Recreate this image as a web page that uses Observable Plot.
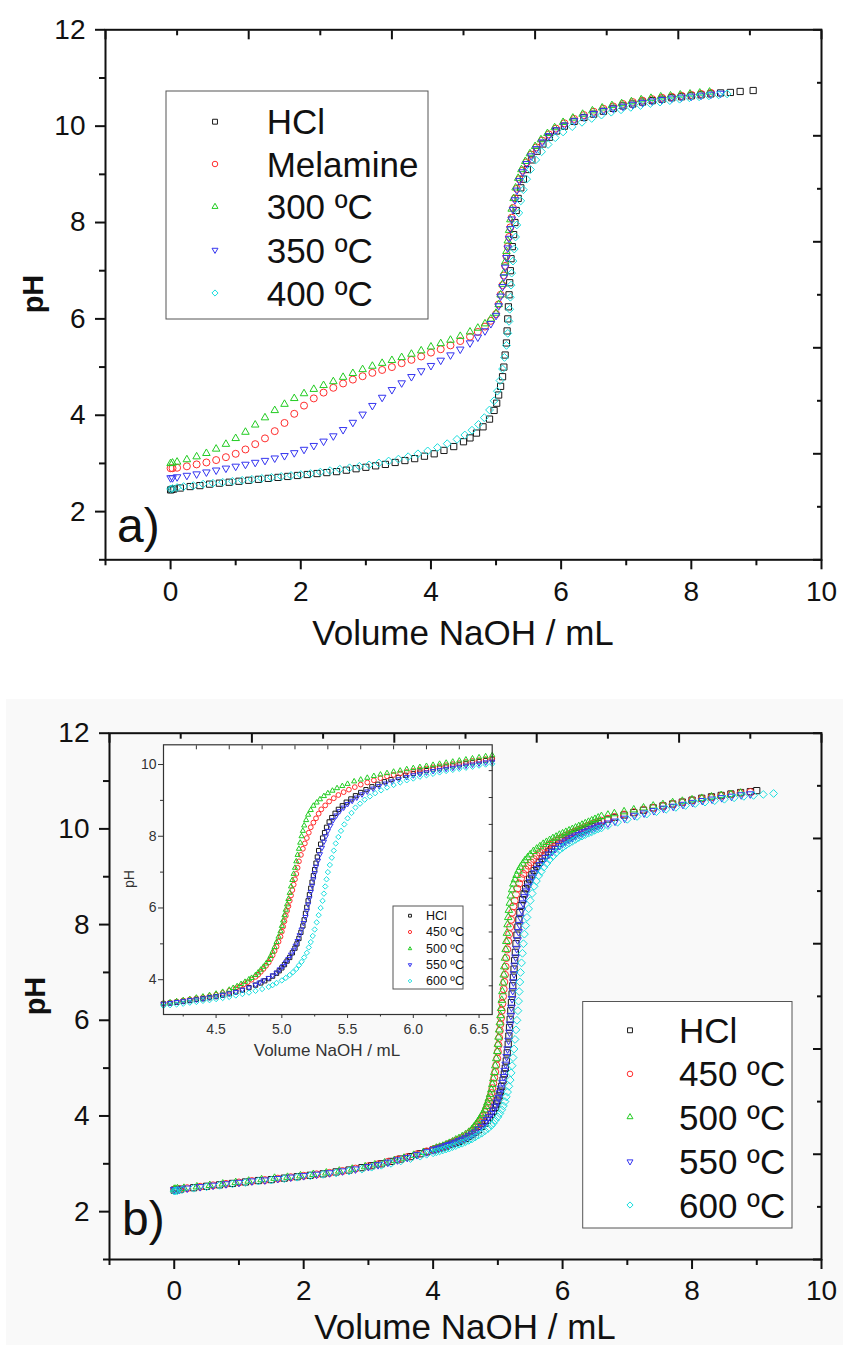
<!DOCTYPE html>
<html><head><meta charset="utf-8">
<script src="https://cdn.jsdelivr.net/npm/d3@7"></script>
<script src="https://cdn.jsdelivr.net/npm/@observablehq/plot@0.6"></script>
<style>
html,body{margin:0;padding:0;background:#fff;}
#root{position:relative;width:843px;height:1345px;overflow:hidden;background:#fff;}
#root svg{position:absolute;}
</style></head><body><div id="root"></div>
<script>
// ---------- Panel a data (Volume NaOH mL, pH) ----------
const seriesA = ["HCl", "Melamine", "300 ºC", "350 ºC", "400 ºC"];
const hclA = [[0,2.45],[0.02,2.46],[0.05,2.47],[0.15,2.49],[0.3,2.52],[0.45,2.54],[0.6,2.57],[0.75,2.59],[0.9,2.61],[1.05,2.63],[1.2,2.65],[1.35,2.67],[1.5,2.69],[1.65,2.71],[1.8,2.73],[1.95,2.75],[2.1,2.77],[2.25,2.79],[2.4,2.81],[2.55,2.83],[2.7,2.86],[2.85,2.89],[3.0,2.92],[3.15,2.95],[3.3,2.98],[3.45,3.02],[3.6,3.06],[3.75,3.1],[3.9,3.15],[4.05,3.2],[4.2,3.27],[4.35,3.35],[4.5,3.45],[4.6,3.53],[4.7,3.63],[4.8,3.76],[4.9,3.92],[4.97,4.1],[5.01,4.25],[5.04,4.42],[5.07,4.6],[5.1,4.8],[5.12,5.0],[5.14,5.25],[5.16,5.5],[5.17,5.75],[5.18,6.0],[5.19,6.25],[5.2,6.5],[5.21,6.75],[5.22,7.0],[5.23,7.25],[5.25,7.5],[5.27,7.75],[5.29,8.0],[5.31,8.25],[5.34,8.5],[5.38,8.72],[5.42,8.9],[5.48,9.1],[5.55,9.3],[5.63,9.48],[5.72,9.63],[5.82,9.77],[5.93,9.9],[6.05,10.0],[6.2,10.1],[6.35,10.18],[6.5,10.25],[6.65,10.31],[6.8,10.37],[6.95,10.42],[7.1,10.46],[7.25,10.5],[7.4,10.53],[7.55,10.56],[7.7,10.59],[7.85,10.61],[8.0,10.63],[8.15,10.65],[8.3,10.67],[8.45,10.69],[8.6,10.7],[8.75,10.72],[8.95,10.74]];
const melamineA = [[0,2.9],[0.03,2.9],[0.1,2.91],[0.25,2.94],[0.4,2.98],[0.55,3.02],[0.7,3.07],[0.85,3.13],[1.0,3.2],[1.15,3.29],[1.3,3.4],[1.45,3.52],[1.6,3.67],[1.75,3.84],[1.9,4.03],[2.05,4.2],[2.2,4.35],[2.35,4.47],[2.5,4.57],[2.65,4.66],[2.8,4.74],[2.95,4.81],[3.1,4.88],[3.25,4.94],[3.4,5.0],[3.55,5.08],[3.7,5.15],[3.85,5.22],[4.0,5.3],[4.15,5.37],[4.3,5.45],[4.45,5.54],[4.6,5.63],[4.72,5.73],[4.83,5.84],[4.92,5.96],[5.0,6.1],[5.04,6.3],[5.07,6.5],[5.1,6.7],[5.12,6.9],[5.14,7.1],[5.16,7.3],[5.18,7.5],[5.2,7.7],[5.22,7.9],[5.24,8.1],[5.26,8.3],[5.29,8.5],[5.32,8.7],[5.36,8.9],[5.41,9.08],[5.47,9.25],[5.54,9.41],[5.62,9.56],[5.71,9.7],[5.81,9.83],[5.92,9.95],[6.05,10.06],[6.2,10.15],[6.35,10.23],[6.5,10.3],[6.65,10.36],[6.8,10.41],[6.95,10.46],[7.1,10.5],[7.25,10.53],[7.4,10.56],[7.55,10.59],[7.7,10.61],[7.85,10.63],[8.0,10.65],[8.15,10.67],[8.3,10.69]];
const c300A = [[0,3.0],[0.03,3.01],[0.1,3.03],[0.25,3.08],[0.4,3.14],[0.55,3.21],[0.7,3.3],[0.85,3.4],[1.0,3.52],[1.15,3.65],[1.3,3.8],[1.45,3.95],[1.6,4.1],[1.75,4.23],[1.9,4.35],[2.05,4.45],[2.2,4.54],[2.35,4.62],[2.5,4.7],[2.65,4.79],[2.8,4.87],[2.95,4.95],[3.1,5.02],[3.25,5.08],[3.4,5.14],[3.55,5.2],[3.7,5.27],[3.85,5.34],[4.0,5.42],[4.15,5.49],[4.3,5.56],[4.45,5.64],[4.6,5.73],[4.72,5.81],[4.83,5.9],[4.92,6.0],[5.0,6.12],[5.04,6.3],[5.07,6.5],[5.1,6.72],[5.12,6.95],[5.14,7.18],[5.16,7.4],[5.18,7.62],[5.2,7.84],[5.22,8.06],[5.24,8.28],[5.27,8.5],[5.3,8.72],[5.34,8.92],[5.39,9.1],[5.45,9.27],[5.52,9.43],[5.6,9.58],[5.69,9.72],[5.79,9.85],[5.9,9.97],[6.03,10.08],[6.18,10.17],[6.33,10.25],[6.48,10.32],[6.63,10.38],[6.78,10.43],[6.93,10.47],[7.08,10.51],[7.23,10.55],[7.38,10.58],[7.53,10.61],[7.68,10.63],[7.83,10.65],[7.98,10.67],[8.13,10.69],[8.28,10.71]];
const c350A = [[0,2.7],[0.03,2.7],[0.1,2.72],[0.25,2.75],[0.4,2.78],[0.55,2.82],[0.7,2.86],[0.85,2.9],[1.0,2.94],[1.15,2.98],[1.3,3.02],[1.45,3.06],[1.6,3.11],[1.75,3.16],[1.9,3.22],[2.05,3.29],[2.2,3.37],[2.35,3.46],[2.5,3.57],[2.65,3.7],[2.8,3.85],[2.95,4.02],[3.1,4.2],[3.25,4.37],[3.4,4.53],[3.55,4.67],[3.7,4.8],[3.85,4.92],[4.0,5.03],[4.15,5.14],[4.3,5.25],[4.45,5.37],[4.6,5.5],[4.72,5.62],[4.83,5.75],[4.92,5.9],[5.0,6.07],[5.04,6.27],[5.07,6.47],[5.1,6.67],[5.12,6.87],[5.14,7.07],[5.16,7.27],[5.18,7.47],[5.2,7.67],[5.22,7.87],[5.24,8.07],[5.26,8.27],[5.29,8.47],[5.32,8.67],[5.36,8.87],[5.41,9.05],[5.47,9.22],[5.54,9.38],[5.62,9.53],[5.71,9.67],[5.81,9.8],[5.92,9.92],[6.05,10.02],[6.2,10.11],[6.35,10.19],[6.5,10.26],[6.65,10.32],[6.8,10.37],[6.95,10.41],[7.1,10.45],[7.25,10.49],[7.4,10.52],[7.55,10.55],[7.7,10.58],[7.85,10.6],[8.0,10.62],[8.15,10.64],[8.3,10.66],[8.45,10.68]];
const c400A = [[0,2.47],[0.03,2.48],[0.1,2.5],[0.2,2.52],[0.35,2.54],[0.5,2.57],[0.65,2.59],[0.8,2.61],[0.95,2.63],[1.1,2.65],[1.25,2.67],[1.4,2.69],[1.55,2.71],[1.7,2.73],[1.85,2.75],[2.0,2.77],[2.15,2.79],[2.3,2.82],[2.45,2.85],[2.6,2.88],[2.75,2.91],[2.9,2.94],[3.05,2.97],[3.2,3.01],[3.35,3.05],[3.5,3.09],[3.65,3.14],[3.8,3.2],[3.95,3.26],[4.1,3.33],[4.25,3.41],[4.4,3.5],[4.52,3.59],[4.63,3.69],[4.73,3.81],[4.82,3.95],[4.9,4.11],[4.97,4.3],[5.02,4.5],[5.06,4.72],[5.1,4.96],[5.13,5.2],[5.16,5.45],[5.18,5.7],[5.2,5.95],[5.21,6.2],[5.22,6.45],[5.23,6.7],[5.24,6.95],[5.26,7.2],[5.28,7.45],[5.3,7.7],[5.32,7.95],[5.35,8.2],[5.38,8.45],[5.42,8.68],[5.47,8.9],[5.53,9.1],[5.61,9.3],[5.7,9.47],[5.8,9.62],[5.91,9.76],[6.03,9.88],[6.17,9.99],[6.32,10.08],[6.47,10.16],[6.62,10.23],[6.77,10.29],[6.92,10.34],[7.07,10.39],[7.22,10.43],[7.37,10.47],[7.52,10.5],[7.67,10.53],[7.82,10.56],[7.97,10.59],[8.12,10.61],[8.27,10.63],[8.42,10.65],[8.55,10.67]];

// ---------- Panel b data ----------
const seriesB = ["HCl", "450 ºC", "500 ºC", "550 ºC", "600 ºC"];
const hclB = [[0,2.45],[0.02,2.45],[0.05,2.46],[0.1,2.47],[0.3,2.5],[0.5,2.53],[0.7,2.56],[0.9,2.59],[1.1,2.62],[1.3,2.65],[1.5,2.67],[1.7,2.7],[1.9,2.73],[2.1,2.76],[2.3,2.79],[2.5,2.83],[2.7,2.87],[2.9,2.92],[3.05,2.96],[3.2,3.0],[3.35,3.05],[3.5,3.1],[3.65,3.15],[3.8,3.21],[3.9,3.25],[4.0,3.29],[4.05,3.31],[4.1,3.33],[4.15,3.35],[4.2,3.37],[4.25,3.4],[4.3,3.42],[4.35,3.45],[4.4,3.47],[4.45,3.5],[4.5,3.53],[4.55,3.57],[4.6,3.61],[4.65,3.66],[4.7,3.71],[4.75,3.78],[4.8,3.85],[4.84,3.91],[4.87,3.97],[4.9,4.03],[4.93,4.1],[4.96,4.18],[4.98,4.25],[5.0,4.33],[5.02,4.42],[5.04,4.52],[5.06,4.62],[5.08,4.75],[5.1,4.88],[5.115,5.0],[5.13,5.15],[5.145,5.32],[5.16,5.5],[5.17,5.67],[5.18,5.85],[5.19,6.02],[5.2,6.2],[5.21,6.37],[5.22,6.55],[5.23,6.72],[5.24,6.9],[5.25,7.07],[5.26,7.25],[5.27,7.42],[5.28,7.6],[5.295,7.78],[5.31,7.95],[5.325,8.1],[5.34,8.25],[5.36,8.4],[5.38,8.52],[5.405,8.64],[5.43,8.75],[5.46,8.85],[5.49,8.95],[5.525,9.04],[5.56,9.13],[5.6,9.22],[5.64,9.3],[5.685,9.38],[5.73,9.45],[5.78,9.52],[5.83,9.58],[5.885,9.64],[5.94,9.7],[6.0,9.75],[6.05,9.79],[6.1,9.83],[6.15,9.87],[6.2,9.9],[6.25,9.93],[6.3,9.96],[6.35,9.99],[6.4,10.02],[6.45,10.05],[6.5,10.08],[6.55,10.11],[6.6,10.15],[6.7,10.2],[6.8,10.24],[6.95,10.29],[7.1,10.34],[7.25,10.39],[7.4,10.44],[7.55,10.48],[7.7,10.52],[7.85,10.56],[8.0,10.6],[8.15,10.64],[8.3,10.67],[8.45,10.7],[8.6,10.73],[8.75,10.76],[8.9,10.78],[9.0,10.8]];
const c450B = [[0,2.46],[0.03,2.46],[0.08,2.47],[0.2,2.49],[0.4,2.52],[0.6,2.55],[0.8,2.58],[1.0,2.61],[1.2,2.64],[1.4,2.66],[1.6,2.69],[1.8,2.72],[2.0,2.75],[2.2,2.78],[2.4,2.81],[2.6,2.85],[2.8,2.9],[3.0,2.95],[3.15,2.99],[3.3,3.04],[3.45,3.09],[3.6,3.14],[3.75,3.2],[3.9,3.26],[4.0,3.3],[4.05,3.32],[4.1,3.34],[4.15,3.36],[4.2,3.39],[4.25,3.42],[4.3,3.45],[4.35,3.48],[4.4,3.51],[4.45,3.54],[4.5,3.58],[4.55,3.63],[4.6,3.69],[4.65,3.76],[4.68,3.81],[4.71,3.87],[4.74,3.93],[4.77,4.0],[4.8,4.08],[4.82,4.14],[4.84,4.22],[4.86,4.3],[4.88,4.39],[4.9,4.48],[4.915,4.58],[4.93,4.68],[4.945,4.8],[4.96,4.92],[4.975,5.06],[4.99,5.2],[5.0,5.34],[5.01,5.48],[5.02,5.63],[5.03,5.78],[5.04,5.92],[5.05,6.05],[5.06,6.2],[5.07,6.35],[5.08,6.5],[5.09,6.65],[5.1,6.8],[5.11,6.95],[5.12,7.12],[5.13,7.3],[5.145,7.48],[5.16,7.65],[5.175,7.8],[5.19,7.95],[5.205,8.1],[5.22,8.25],[5.24,8.38],[5.26,8.5],[5.28,8.63],[5.3,8.75],[5.33,8.86],[5.36,8.97],[5.395,9.06],[5.43,9.15],[5.47,9.23],[5.51,9.3],[5.555,9.37],[5.6,9.44],[5.65,9.5],[5.7,9.56],[5.75,9.62],[5.8,9.67],[5.85,9.71],[5.9,9.75],[5.95,9.79],[6.0,9.82],[6.05,9.86],[6.1,9.89],[6.15,9.92],[6.2,9.95],[6.25,9.98],[6.3,10.01],[6.35,10.04],[6.4,10.07],[6.45,10.1],[6.5,10.12],[6.55,10.15],[6.6,10.17],[6.7,10.21],[6.8,10.25],[6.95,10.3],[7.1,10.35],[7.25,10.4],[7.4,10.44],[7.55,10.48],[7.7,10.52],[7.85,10.56],[8.0,10.6],[8.15,10.63],[8.3,10.66],[8.45,10.69],[8.6,10.72],[8.75,10.75],[8.9,10.77]];
const c500B = [[0,2.47],[0.02,2.47],[0.05,2.48],[0.15,2.49],[0.35,2.52],[0.55,2.55],[0.75,2.58],[0.95,2.61],[1.15,2.64],[1.35,2.67],[1.55,2.7],[1.75,2.72],[1.95,2.75],[2.15,2.78],[2.35,2.81],[2.55,2.85],[2.75,2.89],[2.95,2.94],[3.1,2.98],[3.25,3.02],[3.4,3.07],[3.55,3.12],[3.7,3.18],[3.85,3.24],[4.0,3.3],[4.05,3.33],[4.1,3.35],[4.15,3.37],[4.2,3.4],[4.25,3.43],[4.3,3.46],[4.35,3.5],[4.4,3.53],[4.45,3.57],[4.5,3.61],[4.55,3.66],[4.6,3.72],[4.63,3.77],[4.66,3.82],[4.69,3.88],[4.72,3.94],[4.75,4.01],[4.77,4.05],[4.8,4.13],[4.82,4.2],[4.84,4.28],[4.86,4.36],[4.88,4.45],[4.9,4.55],[4.915,4.66],[4.93,4.78],[4.945,4.91],[4.96,5.05],[4.975,5.2],[4.99,5.35],[5.0,5.5],[5.01,5.65],[5.02,5.8],[5.03,5.95],[5.04,6.1],[5.05,6.25],[5.06,6.42],[5.07,6.6],[5.08,6.78],[5.09,6.95],[5.1,7.12],[5.11,7.3],[5.12,7.48],[5.13,7.65],[5.14,7.82],[5.15,8.0],[5.16,8.15],[5.17,8.3],[5.185,8.45],[5.2,8.6],[5.22,8.73],[5.24,8.85],[5.265,8.94],[5.29,9.03],[5.32,9.12],[5.35,9.2],[5.385,9.27],[5.42,9.34],[5.46,9.4],[5.5,9.46],[5.55,9.53],[5.6,9.58],[5.65,9.63],[5.7,9.68],[5.75,9.72],[5.8,9.76],[5.85,9.8],[5.9,9.83],[5.95,9.87],[6.0,9.9],[6.05,9.93],[6.1,9.96],[6.15,9.99],[6.2,10.02],[6.25,10.05],[6.3,10.08],[6.35,10.11],[6.4,10.14],[6.45,10.17],[6.5,10.2],[6.55,10.23],[6.6,10.26],[6.7,10.29],[6.8,10.32],[6.95,10.36],[7.1,10.4],[7.25,10.44],[7.4,10.48],[7.55,10.51],[7.7,10.55],[7.85,10.58],[8.0,10.61],[8.15,10.64],[8.3,10.67],[8.45,10.7],[8.6,10.72],[8.75,10.75]];
const c550B = [[0,2.46],[0.03,2.46],[0.08,2.47],[0.2,2.49],[0.4,2.52],[0.6,2.55],[0.8,2.58],[1.0,2.61],[1.2,2.64],[1.4,2.66],[1.6,2.69],[1.8,2.72],[2.0,2.75],[2.2,2.78],[2.4,2.81],[2.6,2.85],[2.8,2.89],[3.0,2.94],[3.15,2.98],[3.3,3.03],[3.45,3.08],[3.6,3.13],[3.75,3.19],[3.9,3.25],[4.0,3.29],[4.05,3.31],[4.1,3.33],[4.15,3.35],[4.2,3.38],[4.25,3.4],[4.3,3.43],[4.35,3.45],[4.4,3.48],[4.45,3.51],[4.5,3.54],[4.55,3.58],[4.6,3.62],[4.65,3.66],[4.7,3.72],[4.75,3.78],[4.8,3.86],[4.83,3.92],[4.86,3.98],[4.9,4.05],[4.93,4.12],[4.96,4.2],[4.985,4.29],[5.01,4.38],[5.03,4.48],[5.05,4.58],[5.07,4.7],[5.09,4.82],[5.105,4.95],[5.12,5.08],[5.135,5.24],[5.15,5.4],[5.165,5.58],[5.18,5.75],[5.19,5.92],[5.2,6.1],[5.21,6.27],[5.22,6.45],[5.23,6.62],[5.24,6.8],[5.25,6.97],[5.26,7.15],[5.275,7.32],[5.29,7.5],[5.305,7.68],[5.32,7.85],[5.335,8.0],[5.35,8.15],[5.37,8.3],[5.39,8.45],[5.415,8.58],[5.44,8.7],[5.47,8.8],[5.5,8.9],[5.535,8.99],[5.57,9.08],[5.61,9.17],[5.65,9.25],[5.695,9.33],[5.74,9.4],[5.79,9.47],[5.84,9.53],[5.89,9.59],[5.95,9.65],[6.0,9.7],[6.05,9.74],[6.1,9.78],[6.15,9.82],[6.2,9.85],[6.25,9.88],[6.3,9.91],[6.35,9.94],[6.4,9.97],[6.45,10.0],[6.5,10.03],[6.55,10.06],[6.6,10.08],[6.7,10.12],[6.81,10.16],[6.96,10.22],[7.11,10.28],[7.26,10.33],[7.41,10.38],[7.56,10.43],[7.71,10.47],[7.86,10.51],[8.01,10.55],[8.16,10.59],[8.31,10.62],[8.46,10.65],[8.61,10.68],[8.76,10.71],[8.9,10.73]];
const c600B = [[0,2.43],[0.02,2.43],[0.05,2.44],[0.12,2.46],[0.3,2.49],[0.5,2.52],[0.7,2.55],[0.9,2.58],[1.1,2.61],[1.3,2.64],[1.5,2.66],[1.7,2.69],[1.9,2.72],[2.1,2.75],[2.3,2.78],[2.5,2.81],[2.7,2.85],[2.9,2.89],[3.05,2.93],[3.2,2.97],[3.35,3.01],[3.5,3.06],[3.65,3.11],[3.8,3.16],[3.9,3.2],[4.0,3.23],[4.05,3.25],[4.1,3.27],[4.15,3.29],[4.2,3.31],[4.25,3.33],[4.3,3.36],[4.35,3.38],[4.4,3.41],[4.45,3.43],[4.5,3.46],[4.55,3.49],[4.6,3.52],[4.65,3.56],[4.7,3.6],[4.75,3.64],[4.8,3.69],[4.85,3.74],[4.9,3.8],[4.93,3.85],[4.96,3.91],[5.0,3.98],[5.03,4.05],[5.06,4.13],[5.085,4.21],[5.11,4.3],[5.13,4.4],[5.15,4.5],[5.17,4.62],[5.19,4.75],[5.205,4.9],[5.22,5.05],[5.235,5.22],[5.25,5.4],[5.265,5.6],[5.28,5.8],[5.295,6.0],[5.31,6.2],[5.32,6.4],[5.33,6.6],[5.34,6.8],[5.35,7.0],[5.365,7.2],[5.38,7.4],[5.395,7.6],[5.41,7.8],[5.43,7.98],[5.45,8.15],[5.475,8.33],[5.5,8.5],[5.53,8.65],[5.56,8.8],[5.595,8.91],[5.63,9.02],[5.67,9.11],[5.71,9.2],[5.755,9.28],[5.8,9.36],[5.85,9.43],[5.9,9.5],[5.95,9.56],[6.0,9.61],[6.05,9.66],[6.1,9.7],[6.15,9.74],[6.2,9.78],[6.25,9.82],[6.3,9.85],[6.35,9.88],[6.4,9.91],[6.45,9.94],[6.5,9.97],[6.55,10.0],[6.6,10.02],[6.7,10.07],[6.85,10.14],[7.0,10.2],[7.15,10.26],[7.3,10.31],[7.45,10.36],[7.6,10.41],[7.75,10.45],[7.9,10.49],[8.05,10.53],[8.2,10.56],[8.35,10.59],[8.5,10.62],[8.65,10.65],[8.8,10.68],[8.95,10.7],[9.1,10.72],[9.26,10.74]];

// ---------- Tick values ----------
const xMajor = [0, 2, 4, 6, 8, 10];
const xMinor = [-1, 1, 3, 5, 7, 9];
const yMajor = [2, 4, 6, 8, 10, 12];
const yMinor = [1, 3, 5, 7, 9, 11];
const topMajor = [-1, 1.2, 3.4, 5.6, 7.8, 10];
const topMinor = [0.1, 2.3, 4.5, 6.7, 8.9];
const rightMajor = [12, 9.8, 7.6, 5.4, 3.2, 1];
const rightMinor = [10.9, 8.7, 6.5, 4.3, 2.1];
const insetXMajor = [4.5, 5.0, 5.5, 6.0, 6.5];
const insetXMinor = [4.25, 4.75, 5.25, 5.75, 6.25];
const insetYMajor = [4, 6, 8, 10];
const insetYMinor = [5, 7, 9];
const insetTop = [4.35, 4.6, 4.85, 5.1, 5.35, 5.6, 5.85, 6.1, 6.35];
const insetRight = [9.83, 9.08, 8.33, 7.58, 6.83, 6.08, 5.33, 4.58, 3.83];

// ---------- Styles ----------
const FONT = "'Liberation Sans', Arial, Helvetica, sans-serif";
const colors = ["#1a1a1a", "#ff2d2d", "#22cc22", "#3535f0", "#16dede"];
const squareSym = {draw(c, s) { const h = Math.sqrt(s) * 0.5; c.moveTo(-h, -h); c.lineTo(h, -h); c.lineTo(h, h); c.lineTo(-h, h); c.closePath(); }};
const circleSym = d3.symbolCircle;
const triUp = {draw(c, s) { const R = Math.sqrt(s) * 0.7; c.moveTo(0, -R); c.lineTo(R * 0.866, R / 2); c.lineTo(-R * 0.866, R / 2); c.closePath(); }};
const triDown = {draw(c, s) { const R = Math.sqrt(s) * 0.7; c.moveTo(0, R); c.lineTo(R * 0.866, -R / 2); c.lineTo(-R * 0.866, -R / 2); c.closePath(); }};
const diamondSym = {draw(c, s) { const r = Math.sqrt(s) * 0.63; c.moveTo(0, -r); c.lineTo(r, 0); c.lineTo(0, r); c.lineTo(-r, 0); c.closePath(); }};
const symbolsList = [squareSym, circleSym, triUp, triDown, diamondSym];

const toRows = (list, names) => list.map((pts, i) => pts.map(([x, y]) => ({x, y, series: names[i]})));
const groupsA = toRows([hclA, melamineA, c300A, c350A, c400A], seriesA);
const groupsB = toRows([hclB, c450B, c500B, c550B, c600B], seriesB);

const dotsFor = (groups, r, filter) => groups.map((g, i) =>
  Plot.dot(filter ? g.filter(filter) : g, {x: "x", y: "y", r, symbol: symbolsList[i], stroke: colors[i], fill: "none", strokeWidth: 1}));

const blank = () => "";
function mainAxes() {
  return [
    Plot.axisX({ticks: xMajor, tickSize: 10, tickPadding: 11, fontSize: 28, strokeWidth: 2, label: null}),
    Plot.axisX({ticks: xMinor, tickSize: 6, strokeWidth: 2, tickFormat: blank, label: null}),
    Plot.axisY({ticks: yMajor, tickSize: 10, tickPadding: 10, fontSize: 28, strokeWidth: 2, label: null}),
    Plot.axisY({ticks: yMinor, tickSize: 6, strokeWidth: 2, tickFormat: blank, label: null}),
    Plot.axisX({anchor: "top", ticks: topMajor, tickSize: 9, dy: 9, strokeWidth: 2, tickFormat: blank, label: null}),
    Plot.axisX({anchor: "top", ticks: topMinor, tickSize: 5, dy: 5, strokeWidth: 2, tickFormat: blank, label: null}),
    Plot.axisY({anchor: "right", ticks: rightMajor, tickSize: 9, dx: -9, strokeWidth: 2, tickFormat: blank, label: null}),
    Plot.axisY({anchor: "right", ticks: rightMinor, tickSize: 5, dx: -5, strokeWidth: 2, tickFormat: blank, label: null}),
    Plot.frame({stroke: "#111", strokeWidth: 2})
  ];
}
const baseStyle = {fontFamily: FONT, background: "transparent", color: "#111", overflow: "visible"};

const root = document.getElementById("root");

// Panel a
const plotA = Plot.plot({
  width: 843, height: 660,
  marginLeft: 105, marginRight: 22, marginTop: 29.3, marginBottom: 100.7,
  x: {domain: [-1, 10]}, y: {domain: [1, 12]},
  style: baseStyle,
  marks: [...dotsFor(groupsA, 3.5), ...mainAxes()]
});
plotA.style.left = "0px"; plotA.style.top = "0px";
root.appendChild(plotA);

// light grey background of panel b
const bg = document.createElement("div");
Object.assign(bg.style, {position: "absolute", left: "6px", top: "699px", width: "837px", height: "646px", background: "#f9f9f9"});
root.appendChild(bg);

// Panel b
const plotB = Plot.plot({
  width: 843, height: 665,
  marginLeft: 109, marginRight: 22, marginTop: 52.7, marginBottom: 86,
  x: {domain: [-1, 10]}, y: {domain: [1, 12]},
  style: baseStyle,
  marks: [...dotsFor(groupsB, 3.5), ...mainAxes()]
});
plotB.style.left = "0px"; plotB.style.top = "680px";
root.appendChild(plotB);

// Inset
const plotI = Plot.plot({
  width: 400, height: 330,
  marginLeft: 63, marginRight: 8.3, marginTop: 9.3, marginBottom: 51,
  x: {domain: [4.1, 6.6]}, y: {domain: [3.03, 10.55]},
  style: {...baseStyle, color: "#333"},
  marks: [
    Plot.frame({fill: "white"}),
    ...dotsFor(groupsB, 2.4, d => d.x >= 4.08 && d.x <= 6.62),
    Plot.axisX({ticks: insetXMajor, tickSize: 4, tickPadding: 6, fontSize: 14, tickFormat: d3.format(".1f"), label: null}),
    Plot.axisX({ticks: insetXMinor, tickSize: 2.5, tickFormat: blank, label: null}),
    Plot.axisY({ticks: insetYMajor, tickSize: 5, tickPadding: 2, fontSize: 14, label: null}),
    Plot.axisY({ticks: insetYMinor, tickSize: 3, tickFormat: blank, label: null}),
    Plot.axisX({anchor: "top", ticks: insetTop, tickSize: 4, dy: 4, tickFormat: blank, label: null}),
    Plot.axisY({anchor: "right", ticks: insetRight, tickSize: 4, dx: -4, tickFormat: blank, label: null}),
    Plot.frame({stroke: "#333", strokeWidth: 1.2})
  ]
});
plotI.style.left = "100px"; plotI.style.top = "735px";
root.appendChild(plotI);

// ---------- Overlay: axis titles, panel labels, legends ----------
const ov = d3.select(root).append("svg")
  .attr("width", 843).attr("height", 1345)
  .style("left", "0px").style("top", "0px")
  .style("font-family", FONT).style("pointer-events", "none");

function label(x, y, txt, size, opts = {}) {
  const t = ov.append("text").attr("x", x).attr("y", y).text(txt)
    .attr("font-size", size).attr("fill", opts.fill || "#111")
    .attr("text-anchor", opts.anchor || "middle")
    .attr("dominant-baseline", opts.baseline || "central");
  if (opts.weight) t.attr("font-weight", opts.weight);
  if (opts.rotate) t.attr("transform", `rotate(${opts.rotate},${x},${y})`);
  return t;
}

function legend(box, rows, names, symX, txtX, size, symSize) {
  ov.append("rect").attr("x", box[0]).attr("y", box[1]).attr("width", box[2] - box[0]).attr("height", box[3] - box[1])
    .attr("fill", "white").attr("stroke", "#555").attr("stroke-width", 1);
  names.forEach((n, i) => {
    ov.append("path").attr("d", d3.symbol(symbolsList[i], symSize)())
      .attr("transform", `translate(${symX},${rows[i]})`)
      .attr("fill", "none").attr("stroke", colors[i]).attr("stroke-width", 1);
    label(txtX, rows[i], n, size, {anchor: "start"});
  });
}

// Panel a texts
label(33, 294, "pH", 29, {rotate: -90, weight: "bold"});
label(463, 632, "Volume NaOH / mL", 35);
label(117, 541.7, "a)", 48, {anchor: "start", baseline: "alphabetic"});
legend([166, 91, 428, 319], [121.7, 164, 206.7, 250, 293], seriesA, 215, 266.7, 35, 24);

// Panel b texts
label(35, 996, "pH", 29, {rotate: -90, weight: "bold"});
label(465, 1326, "Volume NaOH / mL", 35);
label(122, 1235, "b)", 48, {anchor: "start", baseline: "alphabetic"});
legend([582.7, 1001.5, 792, 1228], [1030.3, 1073.9, 1117, 1161.6, 1205], seriesB, 630, 679, 35, 24);

// Inset texts
label(327, 1050, "Volume NaOH / mL", 17, {fill: "#333"});
label(129, 879, "pH", 14, {rotate: -90, fill: "#333"});
legend([393, 906, 463, 989], [915.7, 932, 948.7, 964.7, 981], seriesB, 410, 426, 12.5, 8);
</script></body></html>
